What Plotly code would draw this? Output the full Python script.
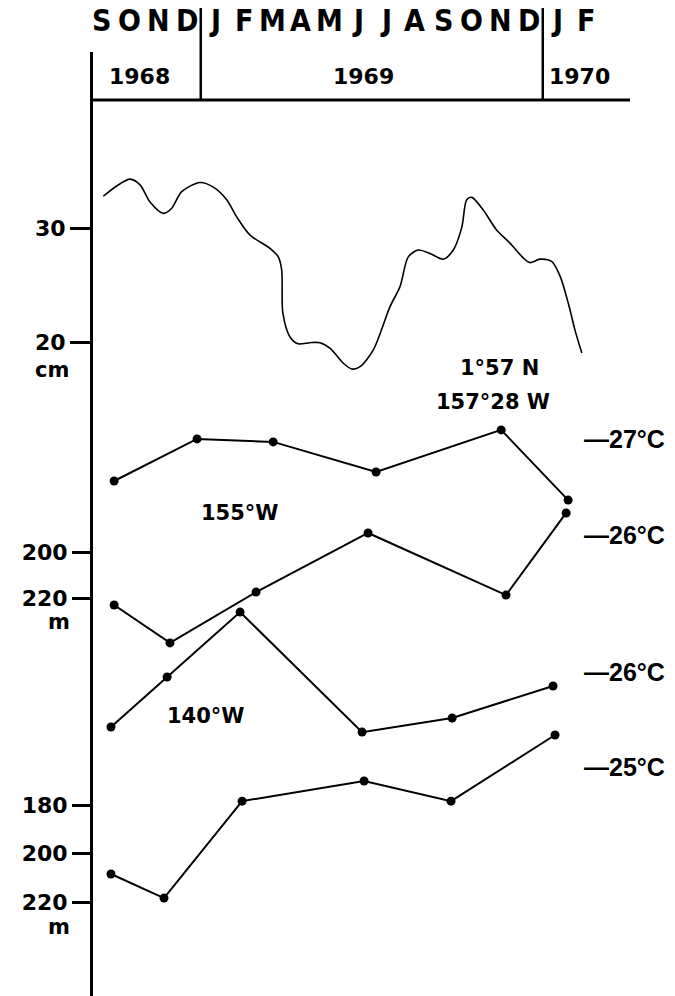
import plotly.graph_objects as go

# ---------------- data ----------------
month_labels = ["S", "O", "N", "D", "J", "F", "M", "A", "M", "J", "J", "A", "S", "O", "N", "D", "J", "F"]
year_labels = ["1968", "1969", "1970"]
year_centers = [1.35, 9.2, 16.8]      # month-index centre of each year label
year_breaks = [3.5, 15.5]             # Dec/Jan boundaries

# sea level at 1°57'N 157°28'W (cm), x = month index (0 = Sep 1968)
sl_month = [0.08, 0.55, 1.02, 1.37, 1.72, 2.19, 2.48, 2.83, 3.47, 3.94, 4.41, 4.76, 5.23, 5.93,
            6.22, 6.34, 6.38, 6.63, 6.92, 7.33, 7.68, 8.04, 8.50, 8.80, 9.09, 9.56, 10.14, 10.49,
            10.78, 11.13, 11.54, 12.01, 12.36, 12.66, 12.83, 13.01, 13.41, 13.88, 14.35, 14.82,
            15.05, 15.40, 15.81, 16.11, 16.40, 16.63, 16.87]
sl_cm = [32.8, 33.7, 34.3, 33.8, 32.3, 31.3, 31.75, 33.2, 34.0, 33.6, 32.5, 31.0, 29.4, 28.25,
         27.5, 26.35, 22.6, 20.5, 19.9, 20.0, 20.0, 19.5, 18.2, 17.7, 17.9, 19.4, 23.15, 24.9,
         27.5, 28.1, 27.8, 27.3, 28.1, 30.1, 32.5, 32.7, 31.6, 29.85, 28.7, 27.4,
         27.0, 27.3, 27.1, 25.8, 23.4, 21.1, 19.1]

# 155°W isotherm depths (m)
w155_27_month = [0.46, 3.37, 6.04, 9.65, 14.04, 16.39]
w155_27_depth = [169.0, 150.7, 152.0, 165.1, 146.8, 177.3]
w155_26_month = [0.46, 2.42, 5.44, 9.37, 14.21, 16.32]
w155_26_depth = [222.9, 239.4, 217.3, 191.6, 218.6, 182.9]

# 140°W isotherm depths (m)
w140_26_month = [0.35, 2.32, 4.88, 9.16, 12.32, 15.86]
w140_26_depth = [147.9, 127.3, 100.6, 150.0, 144.2, 131.0]
w140_25_month = [0.35, 2.21, 4.95, 9.23, 12.28, 15.93]
w140_25_depth = [208.4, 218.3, 178.4, 170.1, 178.4, 151.2]

sl_ticks = [30, 20]
w155_ticks = [200, 220]
w140_ticks = [180, 200, 220]

# ---------------- figure ----------------
W, H = 675, 996
ML, MR, MT, MB = 93, 45, 52, 0
PH = H - MT - MB
PW = W - ML - MR

def py(p):
    """pixel row -> paper y"""
    return (H - MB - p) / PH

def px(p):
    return (p - ML) / PW

WIDE = "DejaVu Sans"
NARROW = "Liberation Sans Narrow, DejaVu Sans Condensed, Arial Narrow, sans-serif"
HELV = "Liberation Sans, Arial, sans-serif"

fig = go.Figure()

fig.add_trace(go.Scatter(x=sl_month, y=sl_cm, mode="lines", yaxis="y",
                         line=dict(color="black", width=1.6, shape="spline", smoothing=0.8),
                         hoverinfo="skip"))

for xs, ys, ax in [(w155_27_month, w155_27_depth, "y2"), (w155_26_month, w155_26_depth, "y2"),
                   (w140_26_month, w140_26_depth, "y3"), (w140_25_month, w140_25_depth, "y3")]:
    fig.add_trace(go.Scatter(x=xs, y=ys, mode="lines+markers", yaxis=ax,
                             line=dict(color="black", width=2),
                             marker=dict(color="black", size=9),
                             hoverinfo="skip"))

tickfont = dict(family=WIDE, size=22, color="black", weight="bold")
common_y = dict(ticks="outside", ticklen=20, tickwidth=2.5, tickcolor="black",
                showgrid=False, zeroline=False, tickfont=tickfont, anchor="x", side="left")

fig.update_layout(
    width=W, height=H,
    margin=dict(l=ML, r=MR, t=MT, b=MB),
    paper_bgcolor="white", plot_bgcolor="white",
    showlegend=False,
    xaxis=dict(range=[-0.281, 18.56], visible=False),
    yaxis=dict(range=[-37.11, 45.41], tickvals=sl_ticks, ticktext=[str(v) for v in sl_ticks],
               showline=True, linewidth=3, linecolor="black", **common_y),
    yaxis2=dict(range=[392.9, -17.5], tickvals=w155_ticks, ticktext=[str(v) for v in w155_ticks],
                overlaying="y", showline=False, **common_y),
    yaxis3=dict(range=[258.6, -129.9], tickvals=w140_ticks, ticktext=[str(v) for v in w140_ticks],
                overlaying="y", showline=False, **common_y),
)

ann = []
# month letters
for i, m in enumerate(month_labels):
    ann.append(dict(x=i, y=py(20), xref="x", yref="paper", text=m, showarrow=False,
                    xanchor="center", yanchor="middle",
                    font=dict(family=NARROW, size=30, color="black", weight="bold")))
# years
for xc, yl in zip(year_centers, year_labels):
    ann.append(dict(x=xc, y=py(77), xref="x", yref="paper", text=yl, showarrow=False,
                    xanchor="center", yanchor="middle",
                    font=dict(family=WIDE, size=22, color="black", weight="bold")))
# units
ann.append(dict(x=px(52), y=py(370), xref="paper", yref="paper", text="cm", showarrow=False,
                xanchor="center", yanchor="middle",
                font=dict(family=WIDE, size=21, color="black", weight="bold")))
for yy in (622, 927):
    ann.append(dict(x=px(59), y=py(yy), xref="paper", yref="paper", text="m", showarrow=False,
                    xanchor="center", yanchor="middle",
                    font=dict(family=WIDE, size=21, color="black", weight="bold")))
# station labels
for txt, cx, cy in [("1°57 N", 499, 368), ("157°28 W", 493, 402), ("155°W", 240, 513), ("140°W", 206, 716)]:
    ann.append(dict(x=px(cx), y=py(cy), xref="paper", yref="paper", text=txt, showarrow=False,
                    xanchor="center", yanchor="middle",
                    font=dict(family=WIDE, size=21, color="black", weight="bold")))
# isotherm labels
for txt, cy in [("—27°C", 439), ("—26°C", 535), ("—26°C", 672), ("—25°C", 767)]:
    ann.append(dict(x=px(582), y=py(cy), xref="paper", yref="paper", text=txt, showarrow=False,
                    xanchor="left", yanchor="middle",
                    font=dict(family=HELV, size=25, color="black", weight="bold")))
fig.update_layout(annotations=ann)

shapes = [dict(type="line", xref="paper", yref="paper", x0=0, x1=1, y0=py(100), y1=py(100),
               line=dict(color="black", width=3))]
for b in year_breaks:
    shapes.append(dict(type="line", xref="x", yref="paper", x0=b, x1=b, y0=py(8), y1=py(100),
                       line=dict(color="black", width=2.5)))
fig.update_layout(shapes=shapes)

fig.write_html("out.html", config={"displayModeBar": False},
               post_script="document.body.style.margin='0';document.body.style.padding='0';")
